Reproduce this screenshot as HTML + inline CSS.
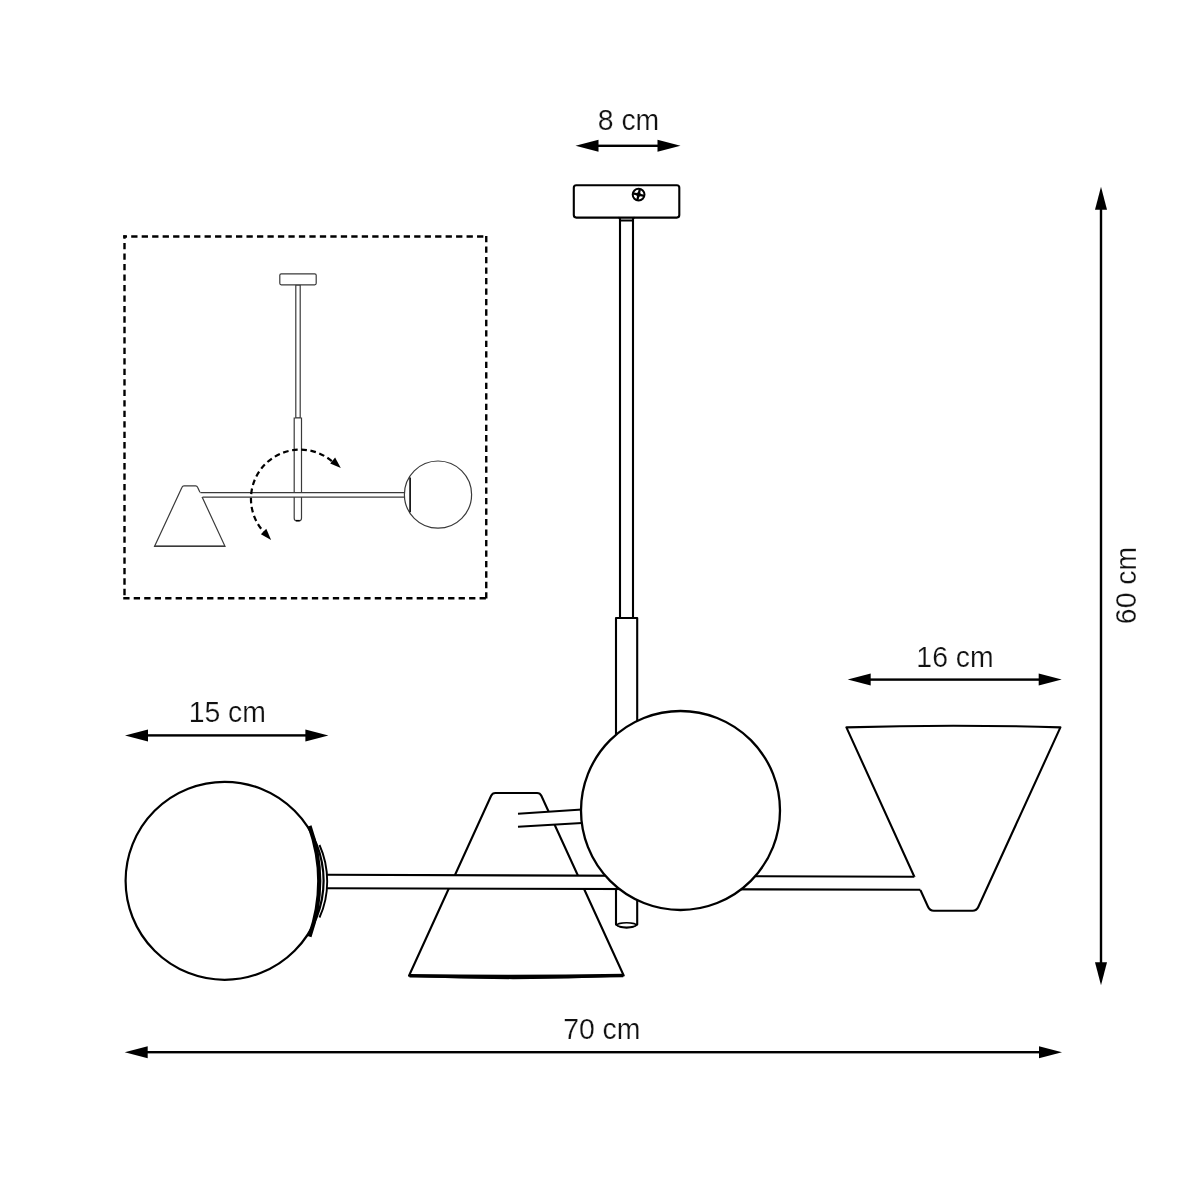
<!DOCTYPE html>
<html><head><meta charset="utf-8">
<style>
html,body{margin:0;padding:0;background:#fff;}
svg{display:block;}
text{font-family:"Liberation Sans",sans-serif;font-size:28.4px;fill:#111;stroke:#fff;stroke-width:0.22px;}
svg{will-change:transform;}
</style></head>
<body>
<svg width="1200" height="1200" viewBox="0 0 1200 1200">
<rect width="1200" height="1200" fill="#fff"/>

<!-- ===== Dimension arrows ===== -->
<g fill="#000" stroke="none">
  <!-- 8 cm -->
  <rect x="590" y="144.6" width="80" height="2.4"/>
  <polygon points="575.5,145.8 598.5,139.8 598.5,151.8"/>
  <polygon points="680.5,145.8 657.5,139.8 657.5,151.8"/>
  <!-- 15 cm -->
  <rect x="140" y="734.2" width="175" height="2.4"/>
  <polygon points="125,735.4 148,729.4 148,741.4"/>
  <polygon points="328.4,735.4 305.4,729.4 305.4,741.4"/>
  <!-- 16 cm -->
  <rect x="860" y="678.4" width="190" height="2.4"/>
  <polygon points="847.7,679.6 870.7,673.6 870.7,685.6"/>
  <polygon points="1061.7,679.6 1038.7,673.6 1038.7,685.6"/>
  <!-- 70 cm -->
  <rect x="140" y="1051" width="910" height="2.4"/>
  <polygon points="124.7,1052.2 147.7,1046.2 147.7,1058.2"/>
  <polygon points="1062,1052.2 1039,1046.2 1039,1058.2"/>
  <!-- 60 cm vertical -->
  <rect x="1099.8" y="200" width="2.4" height="775"/>
  <polygon points="1101,186.7 1095,209.7 1107,209.7"/>
  <polygon points="1101,985.3 1095,962.3 1107,962.3"/>
</g>
<text transform="translate(628.5,129.6) scale(1,1.035)" text-anchor="middle">8 cm</text>
<text transform="translate(227.3,721.8) scale(1,1.035)" text-anchor="middle">15 cm</text>
<text transform="translate(955,667.4) scale(1,1.035)" text-anchor="middle">16 cm</text>
<text transform="translate(601.8,1038.8) scale(1,1.035)" text-anchor="middle">70 cm</text>
<text transform="translate(1135.8,585.5) rotate(-90) scale(1,1.035)" text-anchor="middle">60 cm</text>

<!-- ===== Inset dashed box ===== -->
<g fill="none" stroke="#000" stroke-width="2.4" stroke-dasharray="6.3 4.18">
  <path d="M123.25,236.5 H487.5" stroke-dashoffset="2.53"/>
  <path d="M486.25,235.3 V599.5" stroke-dashoffset="-0.7"/>
  <path d="M123.25,598.25 H487.5"/>
  <path d="M124.5,235.25 V597" stroke-dashoffset="2.73"/>
</g>

<!-- ===== Main lamp ===== -->
<g stroke="#000" stroke-width="2.1" fill="#fff" stroke-linejoin="round">
  <!-- rod -->
  <rect x="620" y="216" width="13" height="402"/>
  <!-- sleeve -->
  <path d="M616,618 H637.2 V924.5 Q626.6,931 616,924.5 Z"/>
  <ellipse cx="626.6" cy="925" rx="9.5" ry="2.2" fill="#fff" stroke-width="1.6"/>
  <!-- canopy -->
  <rect x="573.8" y="185.2" width="105.5" height="32.4" rx="2.5"/>
  <path d="M618.5,217.6 Q620,217.8 620,220.5 H633 Q633,217.8 634.5,217.6" fill="none" stroke-width="1.8"/>
  <circle cx="638.6" cy="194.6" r="5.9" stroke-width="2"/>
  <g stroke-width="2.3" stroke-linecap="butt">
    <line x1="639.9" y1="189" x2="637.3" y2="200.2"/>
    <line x1="633" y1="193.3" x2="644.2" y2="195.9"/>
  </g>
  <circle cx="638.6" cy="194.6" r="2.3" fill="#000" stroke="none"/>

  <!-- middle cone -->
  <path d="M409,975.8 L491.15,795.74 Q492.4,793 495.4,793 H537.1 Q540.1,793 541.35,795.74 L623.7,975.5 Q516.4,980.5 409,975.8 Z"/>
  <path d="M409.5,975.8 Q516.4,977.6 623.2,975.5" fill="none" stroke-width="3.6"/>

  <!-- short rod from globe (over cone) -->
  <path d="M518,813.8 L582,809.5 L582,823 L518,826.8 Z" stroke="none"/>
  <line x1="518" y1="813.8" x2="582" y2="809.5"/>
  <line x1="518" y1="826.8" x2="582" y2="823"/>

  <!-- right cone -->
  <path d="M846.4,727.4 Q953.4,724 1060.4,727.4 L978.4,906.7 Q976.6,910.7 972.6,910.7 H933.8 Q929.8,910.7 928,906.7 Z"/>

  <!-- bar (white fill) -->
  <path d="M326,874.8 L917,876.7 L923.5,889.8 L326,888.3 Z" stroke="none"/>
  <line x1="326" y1="874.8" x2="914.3" y2="876.7"/>
  <line x1="326" y1="888.3" x2="920.3" y2="889.8"/>

  <!-- right globe -->
  <circle cx="680.5" cy="810.5" r="99.5" stroke-width="2.3"/>

  <!-- left globe -->
  <circle cx="224.6" cy="880.8" r="99" stroke-width="2.2"/>
  <path d="M319.5,845 Q327.2,862 327.2,881.5 Q327.2,901 319.5,917.5" fill="none" stroke-width="1.9"/>
  <path d="M309.5,826 Q329,881 309.5,936.6" fill="none" stroke-width="4.2"/>
</g>

<!-- ===== Inset lamp ===== -->
<g stroke="#3a3a3a" stroke-width="1.2" fill="#fff">
  <!-- rod -->
  <rect x="295.8" y="285" width="4.4" height="133"/>
  <path d="M294.2,418 H301.5 V518.3 Q301.5,520.8 299,520.8 H296.7 Q294.2,520.8 294.2,518.3 Z"/>
  <line x1="296" y1="520.6" x2="299.7" y2="520.6" stroke="#000" stroke-width="1.4"/>
  <!-- canopy -->
  <rect x="279.8" y="273.8" width="36.4" height="11" rx="1.5"/>
  <!-- cone -->
  <path d="M154.6,546.3 L182,487.3 Q182.6,485.8 184,485.8 H195.6 Q197,485.8 197.6,487.3 L225,546.3 Z"/>
  <line x1="154.6" y1="546.3" x2="225" y2="546.3" stroke-width="1.5"/>
  <!-- bar -->
  <path d="M198.8,492.6 H404 V497.1 H201 Z" stroke="none"/>
  <line x1="200.4" y1="492.6" x2="404" y2="492.6"/>
  <line x1="202.5" y1="497.1" x2="404" y2="497.1"/>
  <!-- globe -->
  <circle cx="438" cy="494.6" r="33.6"/>
  <line x1="410.1" y1="477.4" x2="410.1" y2="512.3" stroke="#000" stroke-width="1.6"/>
</g>

<!-- dashed rotation arc -->
<g fill="none" stroke="#000" stroke-width="2.2">
  <path d="M331.8,461.1 A49.2,49.2 0 0 0 263.6,531.7" stroke-dasharray="5.6 3.6"/>
</g>
<g fill="#000">
  <polygon points="340.8,468 330.2,463.4 335.1,457.4"/>
  <polygon points="271.1,540 260.9,534.2 266.3,528.7"/>
</g>

</svg>
</body></html>
